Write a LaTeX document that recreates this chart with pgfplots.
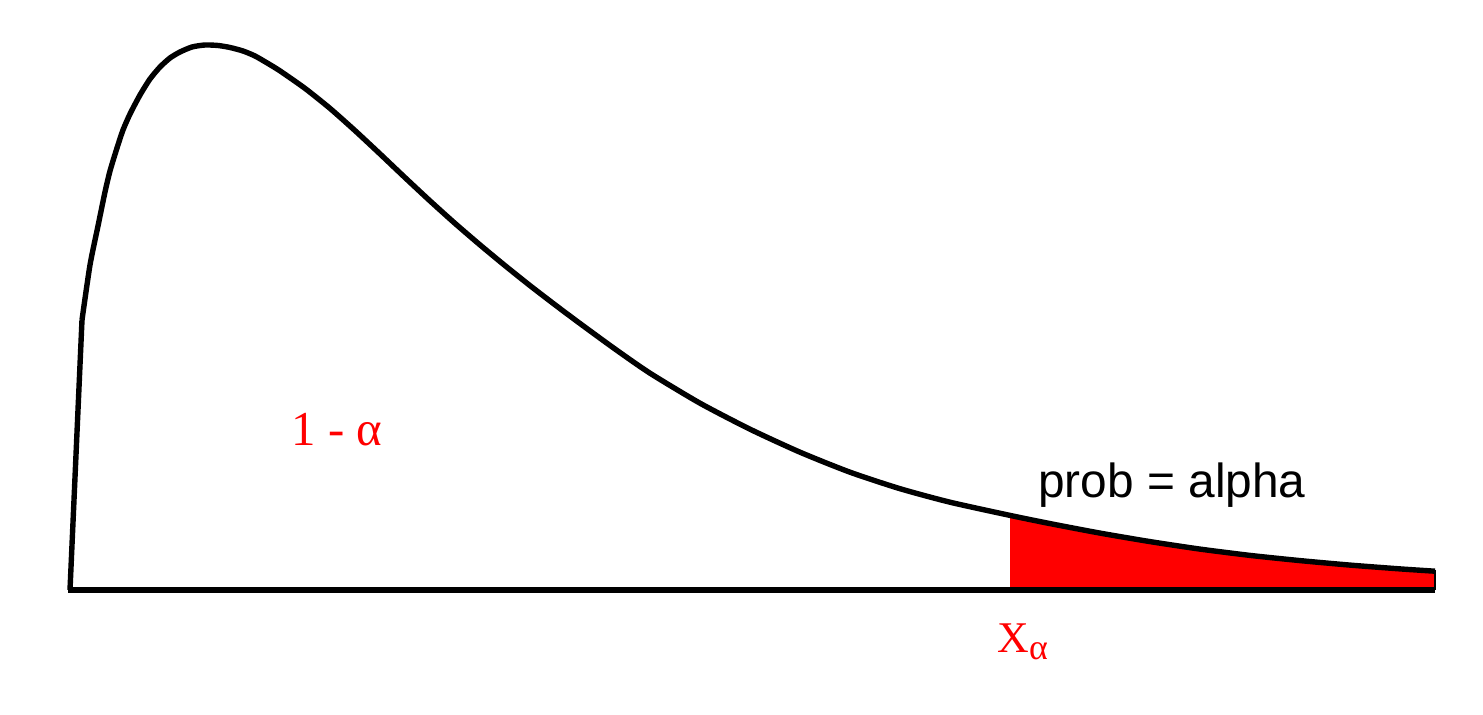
\documentclass[border=0pt]{standalone}
\usepackage{pgfplots}
\pgfplotsset{compat=1.18}
\usepackage{fontspec}
\setmainfont{Liberation Serif}
\newfontfamily\arialfont{Liberation Sans}
\begin{document}
\begin{tikzpicture}
\begin{axis}[
  x=0.5bp, y=0.5bp,
  xmin=0, xmax=1483, ymin=0, ymax=715,
  hide axis, clip=false,
]
\path (axis cs:0,0) rectangle (axis cs:1483,715);
% red tail area (pixel coordinates, y = 715 - row)
\addplot[fill=red, draw=none] coordinates {
 (1010,125) (1010,199.6) (1050,191.4) (1100,181.9) (1150,173.4) (1200,165.9)
 (1250,159.6) (1300,154.4) (1350,149.9) (1400,146.1) (1435,143.8) (1435,125)
} -- cycle;
% baseline
\addplot[black, line width=2.7bp] coordinates {(68,125) (1435,125)};
\addplot[black, line width=1bp] coordinates {(1435,125) (1435,145)};
% curve
\addplot[black, line width=2.7bp, line join=round] coordinates {(70,125) (82,395)};
\addplot[black, line width=2.7bp, smooth, tension=0.4, line join=round] coordinates {
 (82,395) (90,450) (98,489) (105,523) (110,544) (117,567) (123,585) (130,601)
 (140,620) (150,636) (160,648) (170,657) (180,663) (192,668) (205,670)
 (218,669.5) (230,667.5) (243,664) (255,659) (268,651.5) (280,644.1)
 (305,626.6) (330,606.6) (355,584.4) (380,561.1) (405,537.4) (430,514.1)
 (455,491.6) (480,470.1) (505,449.4) (530,429.4) (555,410.2) (580,391.5)
 (615,366) (650,341.8) (700,311.8) (750,285.8) (800,262.8) (850,242.8)
 (900,226.3) (950,212.8) (1010,199.6) (1050,191.4) (1100,181.9) (1150,173.4)
 (1200,165.9) (1250,159.6) (1300,154.4) (1350,149.9) (1400,146.1) (1435,143.8)
};
\node[anchor=base, text=red, font=\fontsize{24.5}{28}\selectfont] at (axis cs:337,269) {1 - α};
\node[anchor=base west, inner sep=0pt, font=\arialfont\fontsize{24}{28}\selectfont] at (axis cs:1038,217) {prob = alpha};
\node[anchor=base west, inner sep=0pt, text=red, font=\fontsize{22}{26}\selectfont] at (axis cs:997,62) {X\raisebox{-0.3ex}{\fontsize{18}{20}\selectfont α}};
\end{axis}
\end{tikzpicture}
\end{document}
